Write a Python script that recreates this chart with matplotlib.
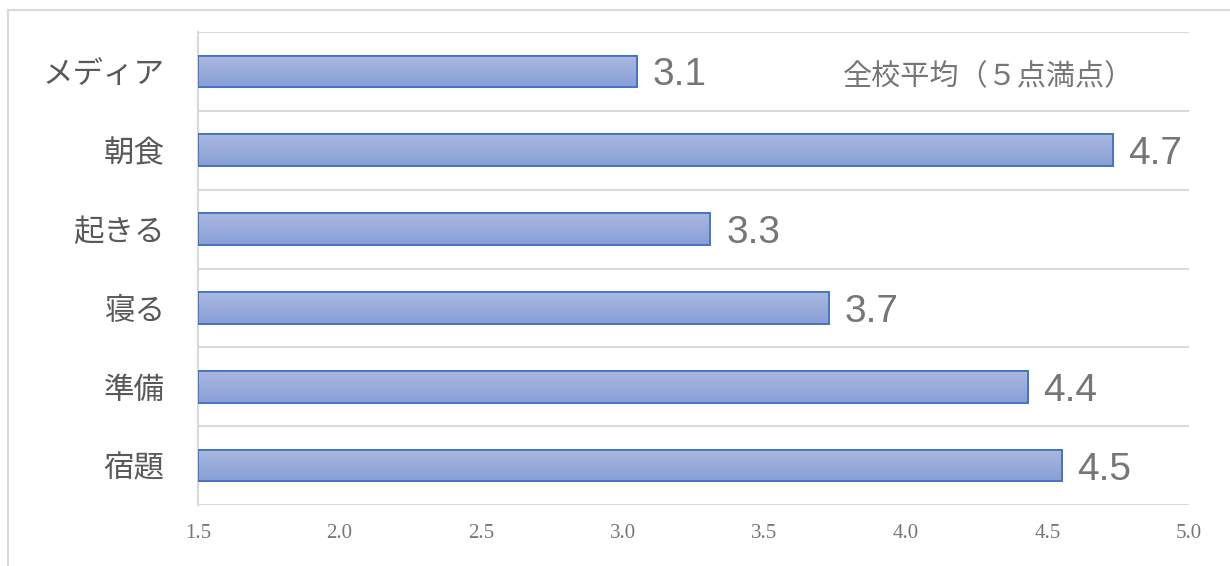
import numpy as np
import matplotlib.pyplot as plt
from matplotlib import font_manager
from matplotlib.lines import Line2D
from matplotlib.colors import LinearSegmentedColormap

# data, top to bottom
categories = ['メディア', '朝食', '起きる', '寝る', '準備', '宿題']
scores = [3.05, 4.73, 3.31, 3.73, 4.43, 4.55]
score_labels = ['3.1', '4.7', '3.3', '3.7', '4.4', '4.5']
xticks = [1.5, 2.0, 2.5, 3.0, 3.5, 4.0, 4.5, 5.0]

names = {f.name for f in font_manager.fontManager.ttflist}
num_font = 'Liberation Sans Narrow' if 'Liberation Sans Narrow' in names else 'Liberation Sans'
jp = ['Noto Sans CJK JP', 'DejaVu Sans']

fig = plt.figure(figsize=(12.3, 5.66), dpi=100)
ax = fig.add_axes([198 / 1230, 1 - 505 / 566, (1189 - 198) / 1230, (505 - 32) / 566])

y = np.arange(len(categories))
bars = ax.barh(y, [s - 1.5 for s in scores], left=1.5, height=0.4,
               color='#9aacdb', edgecolor='#4472c4', linewidth=1.3, zorder=3)

# vertical gradient inside each bar
grad = np.linspace(0, 1, 50).reshape(-1, 1)
cmap = LinearSegmentedColormap.from_list('bar', ['#aab8e0', '#889fd6'])
for b in bars:
    x0, y0 = b.get_x(), b.get_y()
    w, h = b.get_width(), b.get_height()
    im = ax.imshow(grad, extent=[x0, x0 + w, y0 + h, y0], aspect='auto',
                   cmap=cmap, zorder=3.5, origin='upper')
    im.set_clip_path(b)
    ax.add_patch(plt.Rectangle((x0, y0), w, h, fill=False, edgecolor='#4472c4',
                               linewidth=1.3, zorder=4))

for yi, s, lab in zip(y, scores, score_labels):
    ax.text(s + 0.055, yi + 0.05, lab, va='center', ha='left', fontsize=28,
            color='#767676', family=num_font)

ax.set_xlim(1.5, 5.0)
ax.set_ylim(len(categories) - 0.5, -0.5)
ax.set_xticks(xticks)
ax.set_xticklabels([f'{t:.1f}' for t in xticks], family='Liberation Serif',
                   fontsize=15, color='#767676')
ax.set_yticks(y)
ax.set_yticklabels(categories, family=jp, fontsize=22, color='#595959')
ax.set_yticks(np.arange(-0.5, len(categories)), minor=True)
ax.grid(axis='y', which='minor', color='#d9d9d9', linewidth=1.5, zorder=0)
ax.tick_params(axis='both', which='both', length=0)
ax.tick_params(axis='x', pad=14)
ax.tick_params(axis='y', pad=24)
for side in ['top', 'right', 'bottom']:
    ax.spines[side].set_visible(False)
ax.spines['left'].set_color('#d9d9d9')
ax.spines['left'].set_linewidth(1.5)

fig.text(843 / 1230, 1 - 77 / 566, '全校平均（５点満点）', va='center', ha='left',
         fontsize=21, color='#767676', family=jp)

# chart area border
fig.add_artist(Line2D([8 / 1230, 8 / 1230], [0, 1 - 10 / 566], color='#d9d9d9', lw=1.5))
fig.add_artist(Line2D([8 / 1230, 1], [1 - 10 / 566, 1 - 10 / 566], color='#d9d9d9', lw=1.5))

fig.savefig('out.png', dpi=100)
